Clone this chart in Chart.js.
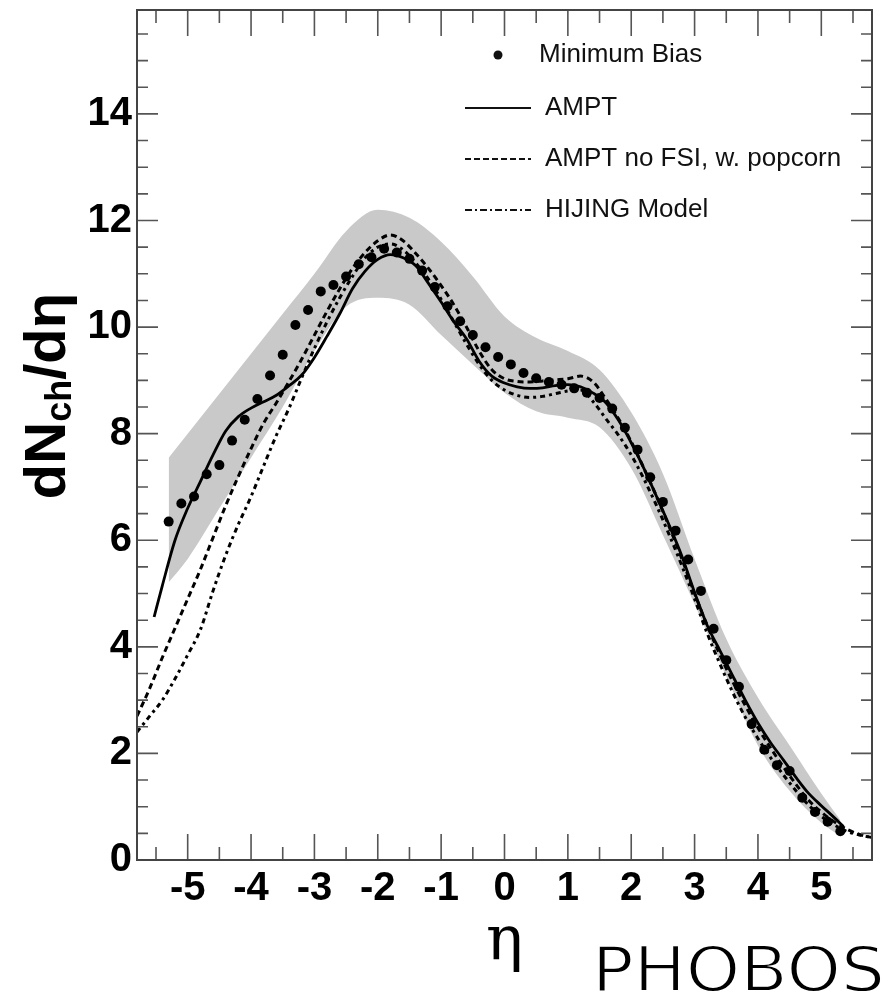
<!DOCTYPE html>
<html>
<head>
<meta charset="utf-8">
<title>dNch/dη - PHOBOS</title>
<script src="https://cdn.jsdelivr.net/npm/chart.js@4.4.1/dist/chart.umd.min.js"></script>
<style>
  html, body { margin: 0; padding: 0; background: #fff; }
</style>
</head>
<body>
<canvas id="etaChart" width="895" height="996"></canvas>
<script>
// 凡例ラベル
const seriesLabels = ['Minimum Bias', 'AMPT', 'AMPT no FSI, w. popcorn', 'HIJING Model'];

// 目盛りラベル
const xTicks = [-5, -4, -3, -2, -1, 0, 1, 2, 3, 4, 5];
const yTicks = [0, 2, 4, 6, 8, 10, 12, 14];

// Minimum Bias データ点
const mbEta = [-5.3, -5.1, -4.9, -4.7, -4.5, -4.3, -4.1, -3.9, -3.7, -3.5, -3.3, -3.1, -2.9, -2.7,
    -2.5, -2.3, -2.1, -1.9, -1.7, -1.5, -1.3, -1.1, -0.9, -0.7, -0.5, -0.3, -0.1, 0.1, 0.3, 0.5,
    0.7, 0.9, 1.1, 1.3, 1.5, 1.7, 1.9, 2.1, 2.3, 2.5, 2.7, 2.9, 3.1, 3.3, 3.5, 3.7, 3.9, 4.1,
    4.3, 4.5, 4.7, 4.9, 5.1, 5.3];
const mbValues = [6.35, 6.69, 6.82, 7.24, 7.41, 7.87, 8.26, 8.65, 9.09, 9.48, 10.04, 10.32, 10.67, 10.79,
    10.95, 11.18, 11.31, 11.47, 11.40, 11.28, 11.06, 10.75, 10.39, 10.11, 9.85, 9.62, 9.44, 9.30, 9.14, 9.04,
    8.97, 8.92, 8.85, 8.77, 8.67, 8.47, 8.11, 7.70, 7.18, 6.72, 6.18, 5.64, 5.05, 4.34, 3.75, 3.25, 2.55, 2.07,
    1.78, 1.67, 1.17, 0.90, 0.72, 0.54];

// AMPT（実線）
const amptEta = [-5.53, -5.4, -5.2, -5.0, -4.8, -4.6, -4.4, -4.2, -4.0, -3.8, -3.6, -3.4, -3.2, -3.0,
    -2.8, -2.6, -2.4, -2.2, -2.0, -1.8, -1.6, -1.4, -1.2, -1.0, -0.8, -0.6, -0.4, -0.2, 0.0, 0.2,
    0.4, 0.6, 0.8, 1.0, 1.2, 1.4, 1.6, 1.8, 2.0, 2.2, 2.4, 2.6, 2.8, 3.0, 3.2, 3.4, 3.6, 3.8,
    4.0, 4.2, 4.4, 4.6, 4.8, 5.0, 5.2, 5.35];
const amptValues = [4.56, 5.15, 6.0, 6.6, 7.1, 7.6, 8.05, 8.32, 8.48, 8.6, 8.72, 8.9, 9.1, 9.43,
    9.83, 10.25, 10.72, 11.05, 11.27, 11.36, 11.3, 11.15, 10.82, 10.47, 10.1, 9.78, 9.36, 9.08, 8.95, 8.88,
    8.85, 8.86, 8.9, 8.92, 8.88, 8.76, 8.58, 8.25, 7.83, 7.35, 6.82, 6.28, 5.7, 5.02, 4.4, 3.93, 3.46, 3.0,
    2.57, 2.2, 1.88, 1.55, 1.25, 1.02, 0.8, 0.63];

// AMPT no FSI / HIJING 共通の η
const modelEta = [-5.8, -5.6, -5.4, -5.2, -5.0, -4.8, -4.6, -4.4, -4.2, -4.0, -3.8, -3.6, -3.4, -3.2,
    -3.0, -2.8, -2.6, -2.4, -2.2, -2.0, -1.8, -1.6, -1.4, -1.2, -1.0, -0.8, -0.6, -0.4, -0.2, 0.0,
    0.2, 0.4, 0.6, 0.8, 1.0, 1.2, 1.4, 1.6, 1.8, 2.0, 2.2, 2.4, 2.6, 2.8, 3.0, 3.2, 3.4, 3.6,
    3.8, 4.0, 4.2, 4.4, 4.6, 4.8, 5.0, 5.2, 5.4, 5.6, 5.8];
const noFsiValues = [2.7, 3.22, 3.8, 4.35, 4.9, 5.45, 6.05, 6.65, 7.2, 7.72, 8.2, 8.58, 8.98, 9.4,
    9.85, 10.3, 10.72, 11.1, 11.4, 11.62, 11.73, 11.62, 11.38, 11.1, 10.78, 10.42, 10.0, 9.55, 9.2, 9.03,
    8.98, 8.97, 8.99, 9.01, 9.03, 9.08, 8.97, 8.65, 8.28, 7.85, 7.35, 6.82, 6.25, 5.65, 5.0, 4.4, 3.85, 3.35,
    2.9, 2.48, 2.1, 1.75, 1.42, 1.12, 0.9, 0.72, 0.58, 0.48, 0.42];
const hijingValues = [2.4, 2.7, 3.0, 3.4, 3.85, 4.32, 5.05, 5.72, 6.3, 6.82, 7.4, 7.97, 8.48, 9.05,
    9.6, 10.1, 10.55, 10.95, 11.3, 11.5, 11.56, 11.45, 11.2, 10.9, 10.52, 10.1, 9.68, 9.3, 9.0, 8.82,
    8.72, 8.68, 8.7, 8.75, 8.8, 8.82, 8.6, 8.28, 7.97, 7.6, 7.15, 6.65, 6.1, 5.52, 4.9, 4.25, 3.68, 3.15,
    2.68, 2.28, 1.92, 1.6, 1.3, 1.03, 0.82, 0.66, 0.54, 0.47, 0.42];

// 系統誤差バンド（上端・下端）
const bandEta = [-5.3, -5.0, -4.5, -4.0, -3.5, -3.0, -2.5, -2.0, -1.5, -1.0, -0.5, 0.0,
    0.5, 1.0, 1.5, 2.0, 2.5, 3.0, 3.5, 4.0, 4.5, 5.0, 5.3];
const bandUpper = [7.55, 8.0, 8.75, 9.5, 10.25, 11.0, 11.8, 12.2, 12.05, 11.6, 10.95, 10.2,
    9.8, 9.55, 9.2, 8.4, 7.25, 5.65, 4.15, 3.05, 2.15, 1.25, 0.75];
const bandLower = [5.21, 5.65, 6.6, 7.55, 8.5, 9.55, 10.38, 10.55, 10.42, 9.85, 9.3, 8.77,
    8.42, 8.3, 8.12, 7.35, 6.1, 4.8, 3.45, 2.15, 1.3, 0.7, 0.45];

const toPoints = (xs, ys) => xs.map((x, i) => ({ x: x, y: ys[i] }));

const SANS = "'Liberation Sans', Arial, Helvetica, sans-serif";

// 凡例の線種
const legendDash = [[], [], [6, 3], [7, 3, 2, 3]];

// 枠・内向き目盛り・凡例・軸タイトル
const plotDecor = {
    id: 'plotDecor',
    afterDraw(chart) {
        const { ctx, chartArea: a, scales: { x, y } } = chart;
        ctx.save();

        // 目盛り（四辺とも内向き）
        ctx.strokeStyle = '#555';
        ctx.lineWidth = 1.6;
        ctx.beginPath();
        for (let v = -5.5; v <= 5.5; v += 0.5) {
            const px = x.getPixelForValue(v);
            const len = Number.isInteger(v) ? 26 : 13;
            ctx.moveTo(px, a.bottom); ctx.lineTo(px, a.bottom - len);
            ctx.moveTo(px, a.top); ctx.lineTo(px, a.top + len);
        }
        for (let v = 0.5; v <= 15.5; v += 0.5) {
            const py = y.getPixelForValue(v);
            const len = v % 2 === 0 ? 21 : 11;
            ctx.moveTo(a.left, py); ctx.lineTo(a.left + len, py);
            ctx.moveTo(a.right, py); ctx.lineTo(a.right - len, py);
        }
        ctx.stroke();

        // 枠
        ctx.strokeStyle = '#444';
        ctx.lineWidth = 2;
        ctx.strokeRect(a.left, a.top, a.right - a.left, a.bottom - a.top);

        // 凡例
        const rowY = [55, 108, 159, 210];
        const textX = [539, 545, 545, 545];
        const symL = 465, symR = 531;
        ctx.font = '26px ' + SANS;
        ctx.fillStyle = '#111';
        ctx.textBaseline = 'middle';
        ctx.textAlign = 'left';
        seriesLabels.forEach((label, i) => {
            const yy = rowY[i];
            if (i === 0) {
                ctx.beginPath();
                ctx.arc((symL + symR) / 2, yy, 4.5, 0, Math.PI * 2);
                ctx.fill();
            } else {
                ctx.save();
                ctx.strokeStyle = '#111';
                ctx.lineWidth = 2;
                ctx.setLineDash(legendDash[i]);
                ctx.beginPath();
                ctx.moveTo(symL, yy);
                ctx.lineTo(symR, yy);
                ctx.stroke();
                ctx.restore();
            }
            ctx.fillText(label, textX[i], yy);
        });

        // 縦軸タイトル dN_ch/dη
        ctx.save();
        ctx.translate(65, 396);
        ctx.rotate(-Math.PI / 2);
        ctx.fillStyle = '#000';
        ctx.textBaseline = 'alphabetic';
        const big = 'bold 58px ' + SANS, small = 'bold 36px ' + SANS;
        ctx.font = big;
        const w1 = ctx.measureText('dN').width;
        const w3 = ctx.measureText('/dη').width;
        ctx.font = small;
        const w2 = ctx.measureText('ch').width;
        let tx = -(w1 + w2 + w3) / 2;
        ctx.font = big;
        ctx.fillText('dN', tx, 0);
        tx += w1;
        ctx.font = small;
        ctx.fillText('ch', tx, 6);
        tx += w2;
        ctx.font = big;
        ctx.fillText('/dη', tx, 0);
        ctx.restore();

        // PHOBOS（細めに見せるため白で縁取り）
        ctx.save();
        ctx.font = "62px 'DejaVu Sans', sans-serif";
        ctx.fillStyle = '#000';
        ctx.textBaseline = 'alphabetic';
        const pw = ctx.measureText('PHOBOS').width;
        ctx.translate(592, 991);
        ctx.scale(293 / pw, 1);
        ctx.fillText('PHOBOS', 0, 0);
        ctx.strokeStyle = '#fff';
        ctx.lineWidth = 1.8;
        ctx.strokeText('PHOBOS', 0, 0);
        ctx.restore();

        ctx.restore();
    }
};

new Chart(document.getElementById('etaChart'), {
    type: 'line',
    data: {
        datasets: [{
            label: seriesLabels[0],
            data: toPoints(mbEta, mbValues),
            showLine: false,
            pointRadius: 5,
            pointBackgroundColor: '#000',
            pointBorderWidth: 0,
        }, {
            label: seriesLabels[1],
            data: toPoints(amptEta, amptValues),
            borderColor: '#000',
            borderWidth: 2.8,
            pointRadius: 0,
            cubicInterpolationMode: 'monotone',
        }, {
            label: seriesLabels[2],
            data: toPoints(modelEta, noFsiValues),
            borderColor: '#000',
            borderWidth: 3,
            borderDash: [6, 4],
            pointRadius: 0,
            cubicInterpolationMode: 'monotone',
        }, {
            label: seriesLabels[3],
            data: toPoints(modelEta, hijingValues),
            borderColor: '#000',
            borderWidth: 3,
            borderDash: [5, 4, 3, 4],
            pointRadius: 0,
            cubicInterpolationMode: 'monotone',
        }, {
            label: 'band upper',
            data: toPoints(bandEta, bandUpper),
            borderColor: 'transparent',
            borderWidth: 0,
            backgroundColor: '#c9c9c9',
            fill: '+1',
            pointRadius: 0,
            cubicInterpolationMode: 'monotone',
        }, {
            label: 'band lower',
            data: toPoints(bandEta, bandLower),
            borderColor: 'transparent',
            borderWidth: 0,
            fill: false,
            pointRadius: 0,
            cubicInterpolationMode: 'monotone',
        }]
    },
    options: {
        responsive: false,
        animation: false,
        events: [],
        layout: { padding: { top: 10, right: 23, left: 0, bottom: 0 } },
        plugins: {
            legend: { display: false },
            tooltip: { enabled: false },
        },
        scales: {
            x: {
                type: 'linear',
                min: -5.8,
                max: 5.8,
                grid: { display: false, drawTicks: false },
                border: { display: false },
                afterBuildTicks: (scale) => { scale.ticks = xTicks.map(v => ({ value: v })); },
                afterFit: (scale) => {
                    scale.height = 136;
                    scale.paddingLeft = 0;
                    scale.paddingRight = 0;
                },
                ticks: {
                    padding: 5,
                    color: '#000',
                    maxRotation: 0,
                    autoSkip: false,
                    font: { family: SANS, size: 40, weight: 'bold' },
                    callback: (v) => String(v),
                },
                title: {
                    display: true,
                    text: 'η',
                    color: '#000',
                    font: { family: "'DejaVu Serif', serif", size: 62 },
                    padding: { top: 0, bottom: 16 },
                }
            },
            y: {
                min: 0,
                max: 15.95,
                grid: { display: false, drawTicks: false },
                border: { display: false },
                afterBuildTicks: (scale) => { scale.ticks = yTicks.map(v => ({ value: v })); },
                afterFit: (scale) => {
                    scale.width = 137;
                    scale.paddingTop = 0;
                    scale.paddingBottom = 0;
                },
                ticks: {
                    padding: 5,
                    color: '#000',
                    font: { family: SANS, size: 40, weight: 'bold' },
                    callback: (v) => String(v),
                }
            }
        }
    },
    plugins: [plotDecor]
});
</script>
</body>
</html>
